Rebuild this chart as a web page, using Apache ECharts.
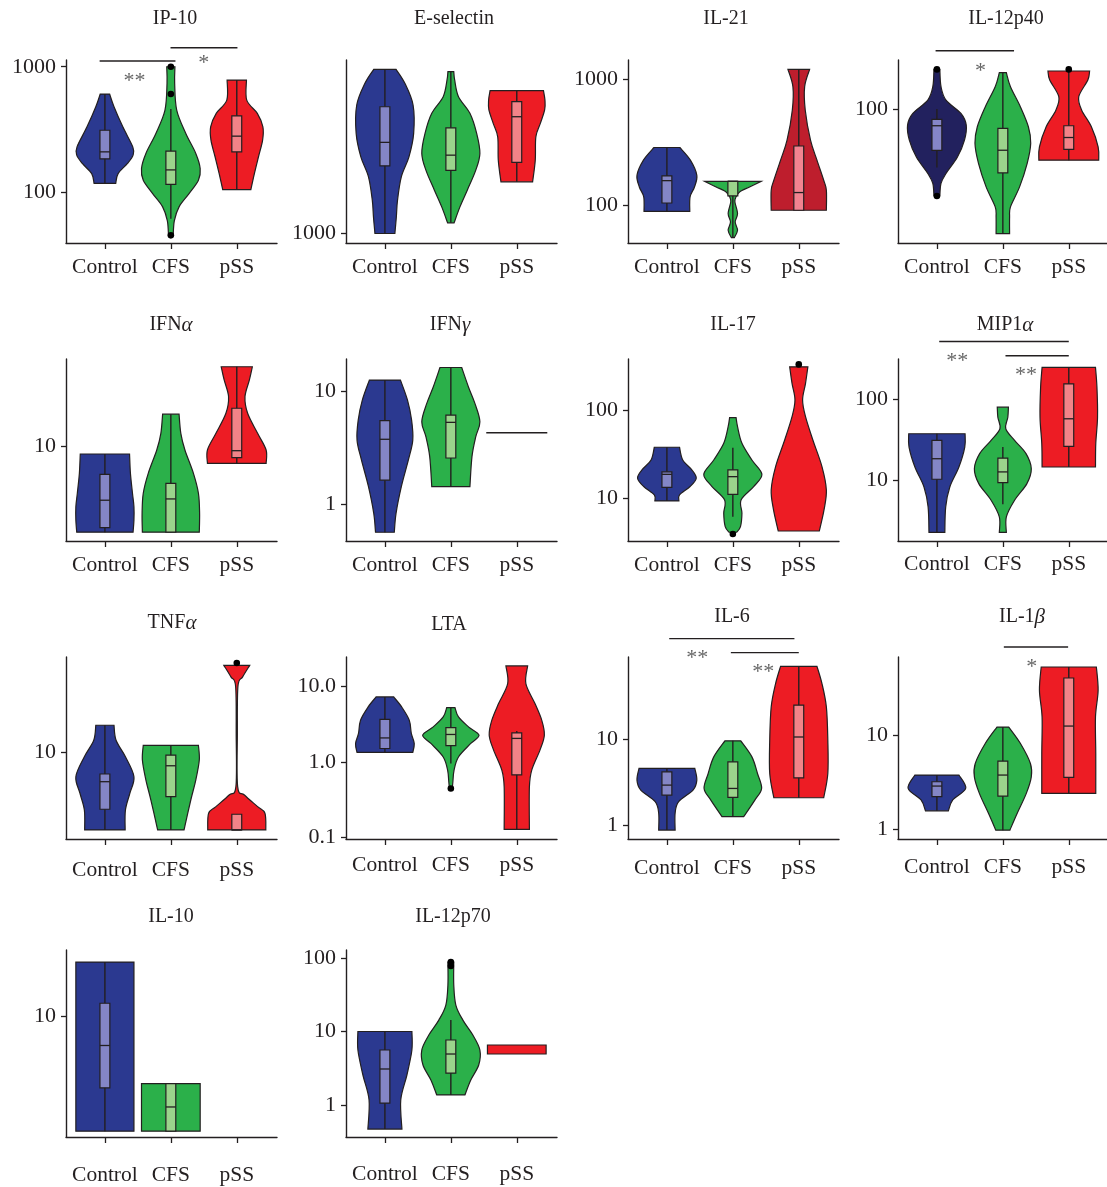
<!DOCTYPE html>
<html><head><meta charset="utf-8">
<script src="https://cdn.jsdelivr.net/npm/echarts@6/dist/echarts.min.js"></script>
<style>html,body{margin:0;padding:0;background:#fff}#c{width:1107px;height:1187px}</style>
</head><body><div id="c"></div><script>
// ---------------- DATA ----------------
const CATEGORIES = ['Control', 'CFS', 'pSS'];
const TITLES = ['IP-10','E-selectin','IL-21','IL-12p40','IFN|α','IFN|γ','IL-17','MIP1|α','TNF|α','LTA','IL-6','IL-1|β','IL-10','IL-12p70'];

// violin profiles: [value, relative half-width]; boxes: [low, q1, median, q3, high]
const IP10_SHAPES = [
  [[605,0.16],[479,0.31],[331,0.61],[229,0.95],[197,0.96],[169,0.77],[140,0.45],[117,0.37]],
  [[1000,0.14],[737,0.13],[450,0.2],[293,0.51],[203,0.85],[154,1.0],[124,0.94],[97,0.62],[76,0.28],[59,0.12],[45,0.08]],
  [[783,0.33],[541,0.34],[424,0.7],[331,0.89],[259,0.88],[191,0.74],[140,0.6],[104.5,0.48]]];
const IP10_BOXES = [[117,184,209,311,605],[61,115,150,212,460],[104.5,209,279,405,783]];
const IP10_OUTLIERS = [[],[1000,605,45],[]];
const IP10_TICKS = [100,1000];
const IP10_RANGE = [39.1,1132];
const IP10_SIG = [[-0.08,1.07,1110,'**',0.45,843],[0.995,2.01,1419,'*',1.5,1175]];

const ESEL_SHAPES = [
  [[2806,0.38],[2570,0.68],[2242,0.96],[1876,0.98],[1619,0.82],[1428,0.56],[1233,0.43],[1110,0.39],[1000,0.34]],
  [[2764,0.1],[2624,0.13],[2362,0.26],[2128,0.65],[1876,0.88],[1654,0.99],[1489,0.85],[1313,0.56],[1182,0.31],[1069,0.11]],
  [[2453,0.91],[2312,0.96],[2173,0.95],[1995,0.8],[1836,0.65],[1585,0.63],[1384,0.54]]];
const ESEL_BOXES = [[1000,1530,1773,2218,2806],[1069,1486,1636,1943,2764],[1384,1563,2083,2289,2453]];
const ESEL_OUTLIERS = [[],[],[]];
const ESEL_TICKS = [1000];
const ESEL_RANGE = [942,2975];
const ESEL_SIG = [];

const IL21_SHAPES = [
  [[286,0.44],[227,0.8],[172,1.02],[139,0.94],[116,0.79],[89,0.78]],
  [[154,0.96],[139,0.57],[127,0.23],[116,0.11],[106,0.07],[85.4,0.16],[73.2,0.08],[62.9,0.16],[55,0.05]],
  [[1194,0.37],[869,0.2],[567,0.22],[327,0.4],[227,0.62],[157,0.85],[131,0.94],[90.8,0.94]]];
const IL21_BOXES = [[89,103.7,156,170,286],[55,118,154,154,154],[90.8,90.8,125.5,294,1194]];
const IL21_OUTLIERS = [[],[],[]];
const IL21_TICKS = [100,1000];
const IL21_RANGE = [49.9,1416];
const IL21_SIG = [];

const IL12P40_SHAPES = [
  [[144,0.1],[122.8,0.14],[108.6,0.31],[96.1,0.82],[86.3,1.0],[75.2,0.94],[64.4,0.7],[55.3,0.31],[50.5,0.14],[45,0.1]],
  [[139.7,0.12],[122.8,0.26],[102,0.6],[85,0.87],[73,0.95],[60.7,0.83],[48.9,0.57],[40.7,0.26],[37.1,0.23],[31.8,0.23]],
  [[141.9,0.71],[130.6,0.65],[112,0.34],[99,0.44],[85,0.77],[70.7,1.0],[62.5,1.02]]];
const IL12P40_BOXES = [[58.4,68.4,85.8,91,100],[31.8,55.6,68.5,83.7,139.7],[62.5,69,77,85.8,141.9]];
const IL12P40_OUTLIERS = [[144,45],[],[144]];
const IL12P40_TICKS = [100];
const IL12P40_RANGE = [29.2,157];
const IL12P40_SIG = [[-0.02,1.17,171,'*',0.66,147.6]];

const IFNA_SHAPES = [
  [[8.74,0.84],[6.12,0.87],[4.24,0.94],[3.31,0.99],[2.59,0.99],[2.07,0.96]],
  [[18.2,0.28],[12.8,0.34],[9.41,0.48],[6.12,0.77],[4.24,0.94],[2.93,0.98],[2.07,0.97]],
  [[43.6,0.53],[34.2,0.43],[25.1,0.28],[18.5,0.37],[12.8,0.71],[9.41,1.0],[7.36,1.0]]];
const IFNA_BOXES = [[2.07,2.25,3.73,6.01,8.74],[2.07,2.07,3.82,5.09,18.2],[7.36,8.17,9.29,20.3,43.6]];
const IFNA_OUTLIERS = [[],[],[]];
const IFNA_TICKS = [10];
const IFNA_RANGE = [1.76,50.3];
const IFNA_SIG = [];

const IFNG_SHAPES = [
  [[12.4,0.53],[8.28,0.77],[5.53,0.91],[3.69,0.95],[2.47,0.8],[1.44,0.56],[0.84,0.38],[0.573,0.32]],
  [[16.0,0.37],[10.8,0.6],[7.74,0.82],[5.35,0.99],[3.95,0.85],[2.64,0.72],[1.44,0.65]],
  [[4.28,1.04]]];
const IFNG_BOXES = [[0.573,1.64,3.75,5.46,12.4],[1.44,2.57,5.28,6.12,16.0],null];
const IFNG_OUTLIERS = [[],[],[]];
const IFNG_TICKS = [1,10];
const IFNG_RANGE = [0.48,19];
const IFNG_SIG = [];

const IL17_SHAPES = [
  [[38,0.43],[27.3,0.54],[21.1,0.85],[17,1.0],[13.7,0.79],[11,0.43],[9.42,0.41]],
  [[81.9,0.11],[64.8,0.16],[42.1,0.31],[27.3,0.65],[18.8,0.99],[13.7,0.71],[9.67,0.28],[6.85,0.31],[4.83,0.26],[4.18,0.13]],
  [[307,0.31],[200,0.23],[130,0.13],[84,0.23],[45.9,0.48],[23,0.79],[12.5,0.94],[7.46,0.86],[4.32,0.7]]];
const IL17_BOXES = [[9.42,13.4,18.8,20.1,38],[6.27,11.2,17.7,21.1,37.6],null];
const IL17_OUTLIERS = [[],[4.0],[327]];
const IL17_TICKS = [10,100];
const IL17_RANGE = [3.33,376];
const IL17_SIG = [];

const MIP1A_SHAPES = [
  [[37.7,0.96],[25.8,0.95],[14.6,0.75],[8.26,0.44],[4.68,0.3],[2.26,0.27]],
  [[80.4,0.19],[60.4,0.17],[43.5,0.1],[31.2,0.4],[21.4,0.79],[13.9,0.97],[9.1,0.82],[5.66,0.4],[3.52,0.12],[2.26,0.12]],
  [[250.5,0.91],[142,0.96],[60.4,0.98],[28.4,0.92],[14.6,0.91]]];
const MIP1A_BOXES = [[2.26,10.3,18.5,31.2,37.7],[5.05,9.36,12.7,18.8,25.8],[14.6,26.3,57.8,156,250.5]];
const MIP1A_OUTLIERS = [[],[],[]];
const MIP1A_TICKS = [10,100];
const MIP1A_RANGE = [1.77,318];
const MIP1A_SIG = [[0.035,2.0,524.6,'**',0.31,339.6],[1.04,2.0,349,'**',1.35,228]];

const TNFA_SHAPES = [
  [[16.5,0.31],[12.5,0.38],[9.22,0.7],[6.38,0.99],[4.7,0.85],[3.45,0.7],[2.39,0.69]],
  [[11.4,0.94],[8.68,0.97],[6.0,0.85],[4.15,0.68],[2.39,0.45]],
  [[49.9,0.44],[40.3,0.2],[33.9,0.04],[14.2,0.02],[5.31,0.03],[4.55,0.26],[3.67,0.71],[3.25,0.96],[2.39,0.99]]];
const TNFA_BOXES = [[2.39,3.5,5.82,6.71,16.5],[2.39,4.41,7.81,9.5,11.4],[2.39,2.39,2.39,3.19,3.19]];
const TNFA_OUTLIERS = [[],[],[52.1]];
const TNFA_TICKS = [10];
const TNFA_RANGE = [2.02,58.2];
const TNFA_SIG = [];

const LTA_SHAPES = [
  [[7.2,0.3],[5.32,0.57],[3.55,0.83],[2.37,0.9],[1.75,1.0],[1.33,0.95]],
  [[5.22,0.14],[3.92,0.26],[2.9,0.6],[2.25,0.96],[1.75,0.68],[1.16,0.26],[0.777,0.11],[0.545,0.07],[0.445,0.05]],
  [[18.5,0.37],[10.8,0.31],[5.89,0.62],[3.55,0.85],[2.25,0.94],[1.43,0.79],[0.777,0.51],[0.468,0.43],[0.128,0.43]]];
const LTA_BOXES = [[1.33,1.5,2.07,3.63,7.2],[0.95,1.64,2.3,2.84,5.22],[0.128,0.674,2.04,2.41,2.56]];
const LTA_OUTLIERS = [[],[0.445],[]];
const LTA_TICKS = [0.1,1,10];
const LTA_TICK_TEXT = ['0.1','1.0','10.0'];
const LTA_RANGE = [0.0955,24.3];
const LTA_SIG = [];

const IL6_SHAPES = [
  [[4.58,0.95],[3.35,1.02],[2.56,0.89],[1.88,0.4],[1.38,0.28],[0.882,0.28]],
  [[9.56,0.27],[6.23,0.65],[4.0,0.84],[2.68,0.98],[1.96,0.75],[1.26,0.37]],
  [[70.1,0.62],[44.2,0.79],[23.7,0.94],[9.73,0.99],[4.0,0.99],[2.09,0.85]]];
const IL6_BOXES = [[0.882,2.24,2.93,4.18,4.58],[1.26,2.11,2.68,5.46,9.56],[2.09,3.56,10.6,24.8,70.1]];
const IL6_OUTLIERS = [[],[],[]];
const IL6_TICKS = [1,10];
const IL6_RANGE = [0.694,89.9];
const IL6_SIG = [[0.035,1.934,146.8,'**',0.46,100],[0.97,2.0,101,'**',1.46,68.8]];

const IL1B_SHAPES = [
  [[3.77,0.75],[2.72,0.98],[2.05,0.54],[1.57,0.39]],
  [[12.2,0.2],[8.16,0.6],[5.01,0.94],[3.61,0.97],[2.41,0.8],[1.48,0.49],[0.98,0.24]],
  [[53,0.94],[30,1.0],[15.6,0.91],[6.4,0.92],[2.41,0.92]]];
const IL1B_BOXES = [[1.57,2.22,2.88,3.2,3.77],[0.98,2.25,3.77,5.3,12.2],[2.41,3.56,12.5,40.5,53]];
const IL1B_OUTLIERS = [[],[],[]];
const IL1B_TICKS = [1,10];
const IL1B_RANGE = [0.789,67.7];
const IL1B_SIG = [[1.015,1.99,86.4,'*',1.44,59]];

const IL10_SHAPES = [
  [[27.0,0.99],[1.22,0.99]],
  [[2.91,1.0],[1.22,1.0]],
  []];
const IL10_BOXES = [[1.22,2.7,5.86,12.7,27.0],[1.22,1.22,1.9,2.91,2.91],null];
const IL10_OUTLIERS = [[],[],[]];
const IL10_TICKS = [10];
const IL10_RANGE = [1.096,33.7];
const IL10_SIG = [];

const IL12P70_SHAPES = [
  [[10,0.92],[5.6,0.92],[2.56,0.75],[1.17,0.54],[0.47,0.58]],
  [[88,0.1],[43,0.1],[22.9,0.17],[14.3,0.41],[8.96,0.75],[5.6,0.99],[3.5,0.95],[2.19,0.68],[1.37,0.48]],
  [[6.55,1.0],[4.94,1.0]]];
const IL12P70_BOXES = [[0.47,1.06,3.09,5.6,10],[1.37,2.72,4.94,7.66,14.3],null];
const IL12P70_OUTLIERS = [[],[88,78],[]];
const IL12P70_TICKS = [1,10,100];
const IL12P70_RANGE = [0.367,128.5];
const IL12P70_SIG = [];

const PANEL_DATA = [
  [IP10_SHAPES, IP10_BOXES, IP10_OUTLIERS, IP10_TICKS, IP10_RANGE, IP10_SIG],
  [ESEL_SHAPES, ESEL_BOXES, ESEL_OUTLIERS, ESEL_TICKS, ESEL_RANGE, ESEL_SIG],
  [IL21_SHAPES, IL21_BOXES, IL21_OUTLIERS, IL21_TICKS, IL21_RANGE, IL21_SIG],
  [IL12P40_SHAPES, IL12P40_BOXES, IL12P40_OUTLIERS, IL12P40_TICKS, IL12P40_RANGE, IL12P40_SIG],
  [IFNA_SHAPES, IFNA_BOXES, IFNA_OUTLIERS, IFNA_TICKS, IFNA_RANGE, IFNA_SIG],
  [IFNG_SHAPES, IFNG_BOXES, IFNG_OUTLIERS, IFNG_TICKS, IFNG_RANGE, IFNG_SIG],
  [IL17_SHAPES, IL17_BOXES, IL17_OUTLIERS, IL17_TICKS, IL17_RANGE, IL17_SIG],
  [MIP1A_SHAPES, MIP1A_BOXES, MIP1A_OUTLIERS, MIP1A_TICKS, MIP1A_RANGE, MIP1A_SIG],
  [TNFA_SHAPES, TNFA_BOXES, TNFA_OUTLIERS, TNFA_TICKS, TNFA_RANGE, TNFA_SIG],
  [LTA_SHAPES, LTA_BOXES, LTA_OUTLIERS, LTA_TICKS, LTA_RANGE, LTA_SIG],
  [IL6_SHAPES, IL6_BOXES, IL6_OUTLIERS, IL6_TICKS, IL6_RANGE, IL6_SIG],
  [IL1B_SHAPES, IL1B_BOXES, IL1B_OUTLIERS, IL1B_TICKS, IL1B_RANGE, IL1B_SIG],
  [IL10_SHAPES, IL10_BOXES, IL10_OUTLIERS, IL10_TICKS, IL10_RANGE, IL10_SIG],
  [IL12P70_SHAPES, IL12P70_BOXES, IL12P70_OUTLIERS, IL12P70_TICKS, IL12P70_RANGE, IL12P70_SIG]
];

// ---------------- LAYOUT / STYLE ----------------
const FONT = 'Liberation Serif, Times New Roman, serif';
const INK = '#231f20';
const FILL = ['#2B3990', '#2BB04A', '#ED1C24'];
const BOX_FILL = ['#8486C6', '#9BD48C', '#F28388'];
const FILL_OVERRIDE = {'3_0': ['#22215E', '#8585C8'], '2_2': ['#BE1E2D', '#F28390']};
const COL_LEFT = [66, 346, 628, 898];
const ROW_TOP = [60, 359, 657, 950];
const ROW_H = [183, 182, 182, 187];
const GRID_W = 211;
const X_MIN = -0.59, X_MAX = 2.61;
const HALF = 0.445;     // x-units for relative width 1
const BOX_HALF = 0.075;
const X_LABEL_MARGIN = [13,13,13,13, 13,13,13,12, 20,15,18,17, 27,26];
const TITLE_POS = [[175,19],[454,19],[726,19],[1006,19],[171,325],[450,325],[733,325],[1005,325],[172,623],[449,625],[732,617],[1022,617],[171,917],[453,917]];

function fmtP(p) { return p[0].toFixed(2) + ' ' + p[1].toFixed(2); }
function spline(pts) {
  let d = '';
  for (let i = 0; i < pts.length - 1; i++) {
    const p0 = pts[Math.max(i - 1, 0)], p1 = pts[i], p2 = pts[i + 1], p3 = pts[Math.min(i + 2, pts.length - 1)];
    const c1 = [p1[0] + (p2[0] - p0[0]) / 6, p1[1] + (p2[1] - p0[1]) / 6];
    const c2 = [p2[0] - (p3[0] - p1[0]) / 6, p2[1] - (p3[1] - p1[1]) / 6];
    d += ' C' + fmtP(c1) + ' ' + fmtP(c2) + ' ' + fmtP(p2);
  }
  return d;
}

function renderViolin(pi, gi, api) {
  const [shapes, boxes, outs] = PANEL_DATA[pi];
  const ov = FILL_OVERRIDE[pi + '_' + gi];
  const fill = ov ? ov[0] : FILL[gi];
  const bfill = ov ? ov[1] : BOX_FILL[gi];
  const children = [];
  const shape = shapes[gi];
  if (shape && shape.length === 1) {
    const v = shape[0][0], w = shape[0][1] * HALF;
    const a = api.coord([gi - w, v]), b = api.coord([gi + w, v]);
    children.push({type: 'line', shape: {x1: a[0], y1: a[1], x2: b[0], y2: b[1]}, style: {stroke: INK, lineWidth: 1.4}});
  } else if (shape && shape.length > 1) {
    const right = shape.map(p => api.coord([gi + p[1] * HALF, p[0]]));
    const left = shape.map(p => api.coord([gi - p[1] * HALF, p[0]])).reverse();
    const d = 'M' + fmtP(right[0]) + spline(right) + ' L' + fmtP(left[0]) + spline(left) + ' Z';
    children.push({type: 'path', shape: {pathData: d}, style: {fill: fill, stroke: INK, lineWidth: 1.2}});
  }
  const b = boxes[gi];
  if (b) {
    const lo = api.coord([gi, b[0]]), hi = api.coord([gi, b[4]]);
    children.push({type: 'line', shape: {x1: lo[0], y1: lo[1], x2: hi[0], y2: hi[1]}, style: {stroke: INK, lineWidth: 1.4}});
    const tl = api.coord([gi - BOX_HALF, b[3]]), br = api.coord([gi + BOX_HALF, b[1]]);
    children.push({type: 'rect', shape: {x: tl[0], y: tl[1], width: br[0] - tl[0], height: br[1] - tl[1]}, style: {fill: bfill, stroke: INK, lineWidth: 1.2}});
    const ml = api.coord([gi - BOX_HALF, b[2]]), mr = api.coord([gi + BOX_HALF, b[2]]);
    children.push({type: 'line', shape: {x1: ml[0], y1: ml[1], x2: mr[0], y2: mr[1]}, style: {stroke: INK, lineWidth: 1.3}});
  }
  (outs[gi] || []).forEach(v => {
    const c = api.coord([gi, v]);
    children.push({type: 'circle', shape: {cx: c[0], cy: c[1], r: 3.3}, style: {fill: '#000'}});
  });
  return {type: 'group', children: children};
}

function renderSig(pi, si, api) {
  const s = PANEL_DATA[pi][5][si];
  const a = api.coord([s[0], s[2]]), b = api.coord([s[1], s[2]]);
  const t = api.coord([s[4], s[5]]);
  return {type: 'group', children: [
    {type: 'line', shape: {x1: a[0], y1: a[1], x2: b[0], y2: b[1]}, style: {stroke: INK, lineWidth: 1.4}},
    {type: 'text', x: t[0], y: t[1] + 5, style: {text: s[3], fill: '#666', font: '22px ' + FONT, align: 'center', verticalAlign: 'middle'}}
  ]};
}

const grids = [], xAxes = [], yAxes = [], series = [], graphics = [];
PANEL_DATA.forEach((pd, pi) => {
  const col = pi % 4, row = Math.floor(pi / 4);
  grids.push({left: COL_LEFT[col], top: ROW_TOP[row], width: GRID_W, height: ROW_H[row], containLabel: false, outerBoundsMode: 'none'});
  xAxes.push({
    type: 'value', gridIndex: pi, min: X_MIN, max: X_MAX, position: 'bottom',
    axisLine: {show: true, onZero: false, lineStyle: {color: INK, width: 1.4}},
    axisTick: {show: true, customValues: [0, 1, 2], length: 6, lineStyle: {color: INK, width: 1.3}},
    axisLabel: {show: true, customValues: [0, 1, 2], margin: X_LABEL_MARGIN[pi], formatter: v => CATEGORIES[Math.round(v)],
      color: INK, fontFamily: FONT, fontSize: 21.5},
    splitLine: {show: false}
  });
  const ticks = pd[3];
  yAxes.push({
    type: 'log', logBase: 10, gridIndex: pi, min: pd[4][0], max: pd[4][1], position: 'left',
    axisLine: {show: true, onZero: false, lineStyle: {color: INK, width: 1.4}},
    axisTick: {show: true, customValues: ticks, length: 5, lineStyle: {color: INK, width: 1.3}},
    axisLabel: {show: true, customValues: ticks, margin: 10, color: INK, fontFamily: FONT, fontSize: 22,
      formatter: v => {
        if (pi === 9) { let k = 0, best = 1e9; LTA_TICKS.forEach((t, i) => { const d = Math.abs(Math.log10(t) - Math.log10(v)); if (d < best) { best = d; k = i; } }); return LTA_TICK_TEXT[k]; }
        return String(Math.round(v));
      }},
    splitLine: {show: false}
  });
  series.push({
    type: 'custom', xAxisIndex: pi, yAxisIndex: pi, animation: false, silent: true, clip: false,
    data: CATEGORIES.map((c, i) => [i, pd[4][0]]), encode: {x: 0, y: 1},
    renderItem: (params, api) => renderViolin(pi, api.value(0), api)
  });
  if (pd[5].length) {
    series.push({
      type: 'custom', xAxisIndex: pi, yAxisIndex: pi, animation: false, silent: true, clip: false,
      data: pd[5].map((s, i) => [s[0], s[2], i]), encode: {x: 0, y: 1},
      renderItem: (params, api) => renderSig(pi, api.value(2), api)
    });
  }
  const parts = TITLES[pi].split('|');
  const text = parts.length > 1 ? '{n|' + parts[0] + '}{g|' + parts[1] + '}' : '{n|' + parts[0] + '}';
  graphics.push({type: 'text', x: TITLE_POS[pi][0], y: TITLE_POS[pi][1], silent: true,
    style: {text: text, align: 'center', verticalAlign: 'middle', fill: INK, font: '20px ' + FONT,
      rich: {n: {fontFamily: FONT, fontSize: 20, fill: INK, color: INK}, g: {fontFamily: FONT, fontSize: 21, fontStyle: 'italic', fill: INK, color: INK}}}});
});

const chart = echarts.init(document.getElementById('c'), null, {renderer: 'canvas'});
chart.setOption({
  animation: false,
  backgroundColor: '#ffffff',
  grid: grids, xAxis: xAxes, yAxis: yAxes, series: series, graphic: graphics
});
</script></body></html>
